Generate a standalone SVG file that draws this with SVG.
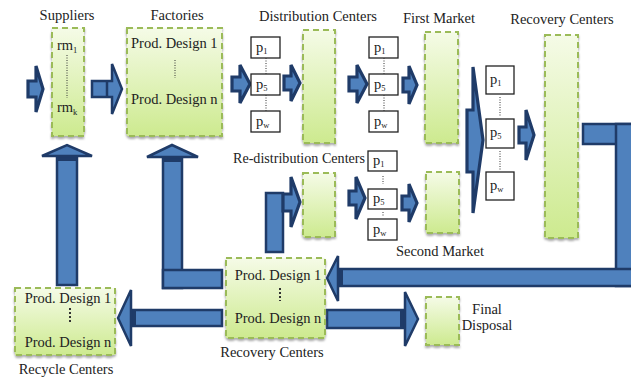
<svg xmlns="http://www.w3.org/2000/svg" width="631" height="379" viewBox="0 0 631 379">
<defs>
<linearGradient id="g" x1="0" y1="0" x2="0" y2="1">
<stop offset="0" stop-color="#f5fbe7"/>
<stop offset="1" stop-color="#cdea8f"/>
</linearGradient>
<filter id="sh" x="-10%" y="-10%" width="120%" height="120%">
<feDropShadow dx="0" dy="2" stdDeviation="0.8" flood-color="#888" flood-opacity="0.7"/>
</filter>
<style>
.box{fill:url(#g);stroke:#9bbb59;stroke-width:2;stroke-dasharray:6 4;filter:url(#sh)}
.pb{fill:#fff;stroke:#222;stroke-width:1.3}
.ar{fill:#4f81bd;stroke:#1f3b68;stroke-width:2.5;stroke-linejoin:miter}
.ars{fill:#4f81bd;stroke:#1f3b68;stroke-width:3.2;stroke-linejoin:miter}
.band{fill:#1f3b68}
.dot{stroke:#333;stroke-width:1;stroke-dasharray:1 1.5;fill:none}
.dot2{stroke:#333;stroke-width:2;stroke-dasharray:2 2;fill:none}
text{font-family:"Liberation Serif","Times New Roman",serif;font-size:14.5px;fill:#222}
.c{text-anchor:middle}
.sub{font-size:8.5px}
</style>
</defs>
<g id="connectors">
<polygon class="ars" points="28,81 36,81 36,66 43,89 36,112 36,97 28,97"/>
<polygon class="ar" points="92,81 112,81 112,64 122,89 112,114 112,97 92,97"/>
<line x1="107" y1="81" x2="107" y2="97" stroke="#1f3b68" stroke-width="2.5"/>
<polygon class="ars" points="232,77 240,77 240,65 250,84 240,103 240,91 232,91"/>
<polygon class="ars" points="284,76 291,76 291,65 300,83 291,101 291,90 284,90"/>
<polygon class="ars" points="349,77 357,77 357,65 367,84 357,103 357,91 349,91"/>
<polygon class="ars" points="403,78 409,78 409,66 417,85 409,104 409,92 403,92"/>
<rect class="ar" x="266" y="193" width="17" height="59"/>
<polygon class="ars" points="283,194 291,194 291,177 300,202 291,227 291,211 283,211"/>
<polygon class="ars" points="349,191 356,191 356,177 365,198 356,219 356,205 349,205"/>
<polygon class="ars" points="402,196 409,196 409,184 417,203 409,222 409,210 402,210"/>
<polygon class="ars" points="467,110 473,110 473,67 483,140 473,213 473,172 467,172"/>
<polygon class="ars" points="519,127 526,127 526,110 534,135 526,160 526,143 519,143"/>
<rect class="ar" x="583" y="124" width="50" height="20"/>
<rect class="ar" x="616" y="124" width="17" height="162"/>
<rect class="ar" x="338" y="269" width="295" height="17"/>
<rect class="band" x="338" y="269" width="5" height="17"/>
<polygon class="ar" points="338,256 327,278 338,301"/>
<rect class="ar" x="163" y="157" width="19" height="131"/>
<rect class="ar" x="163" y="270" width="59" height="18"/>
<rect class="band" x="163" y="157" width="19" height="5"/>
<polygon class="ar" points="147,157 172,145 198,157"/>
<rect class="ar" x="57" y="157" width="20" height="128"/>
<rect class="band" x="57" y="156" width="20" height="5"/>
<polygon class="ar" points="42,156 67,145 92,156"/>
<rect class="ar" x="131" y="310" width="91" height="16"/>
<rect class="band" x="131" y="310" width="5" height="16"/>
<polygon class="ar" points="131,290 118,318 131,346"/>
<rect class="ar" x="327" y="310" width="78" height="18"/>
<rect class="band" x="400" y="310" width="5" height="18"/>
<polygon class="ar" points="405,292 418,319 405,346"/>
</g>
<g id="suppliers">
<rect class="box" x="52" y="28" width="32" height="108"/>
<text x="67" y="20" class="c">Suppliers</text>
<text x="57" y="50">rm<tspan class="sub" dy="3">1</tspan></text>
<line class="dot" x1="67" y1="55" x2="67" y2="98"/>
<text x="57" y="112">rm<tspan class="sub" dy="3">k</tspan></text>
</g>
<g id="factories">
<rect class="box" x="127" y="28" width="95" height="108"/>
<text x="177" y="20" class="c">Factories</text>
<text x="131" y="48">Prod. Design 1</text>
<line class="dot" x1="175" y1="60" x2="175" y2="78"/>
<text x="131" y="104">Prod. Design n</text>
</g>
<g id="products-1">
<rect class="pb" x="251" y="37" width="29" height="21"/>
<rect class="pb" x="251" y="74" width="29" height="21"/>
<rect class="pb" x="251" y="111" width="29" height="21"/>
<line class="dot" x1="266" y1="58" x2="266" y2="74"/>
<line class="dot" x1="266" y1="95" x2="266" y2="111"/>
<text x="256" y="52">p<tspan class="sub" dy="2">1</tspan></text>
<text x="256" y="89">p<tspan class="sub" dy="2">5</tspan></text>
<text x="256" y="126">p<tspan class="sub" dy="2">w</tspan></text>
</g>
<g id="distribution-centers">
<rect class="box" x="303" y="30" width="32" height="113"/>
<text x="318" y="21" class="c">Distribution Centers</text>
</g>
<g id="products-2">
<rect class="pb" x="369" y="37" width="29" height="21"/>
<rect class="pb" x="369" y="74" width="29" height="21"/>
<rect class="pb" x="369" y="111" width="29" height="21"/>
<line class="dot" x1="384" y1="58" x2="384" y2="74"/>
<line class="dot" x1="384" y1="95" x2="384" y2="111"/>
<text x="374" y="52">p<tspan class="sub" dy="2">1</tspan></text>
<text x="374" y="89">p<tspan class="sub" dy="2">5</tspan></text>
<text x="374" y="126">p<tspan class="sub" dy="2">w</tspan></text>
</g>
<g id="first-market">
<rect class="box" x="425" y="32" width="33" height="111"/>
<text x="439" y="23" class="c">First Market</text>
</g>
<g id="redistribution-centers">
<rect class="box" x="303" y="173" width="32" height="64"/>
<text x="233" y="163" textLength="132" lengthAdjust="spacingAndGlyphs">Re-distribution Centers</text>
</g>
<g id="products-3">
<rect class="pb" x="368" y="151" width="29" height="20"/>
<rect class="pb" x="368" y="189" width="29" height="20"/>
<rect class="pb" x="368" y="219" width="29" height="21"/>
<line class="dot" x1="383" y1="176" x2="383" y2="184"/>
<line class="dot" x1="383" y1="212" x2="383" y2="217"/>
<text x="373" y="165">p<tspan class="sub" dy="2">1</tspan></text>
<text x="373" y="203">p<tspan class="sub" dy="2">5</tspan></text>
<text x="373" y="234">p<tspan class="sub" dy="2">w</tspan></text>
</g>
<g id="second-market">
<rect class="box" x="426" y="172" width="33" height="61"/>
<text x="440" y="256" class="c">Second Market</text>
</g>
<g id="products-4">
<rect class="pb" x="486" y="66" width="28" height="28"/>
<rect class="pb" x="486" y="119" width="28" height="29"/>
<rect class="pb" x="486" y="172" width="28" height="28"/>
<line class="dot" x1="500" y1="97" x2="500" y2="116"/>
<line class="dot" x1="500" y1="151" x2="500" y2="170"/>
<text x="490" y="84">p<tspan class="sub" dy="2">1</tspan></text>
<text x="490" y="137">p<tspan class="sub" dy="2">5</tspan></text>
<text x="490" y="190">p<tspan class="sub" dy="2">w</tspan></text>
</g>
<g id="recovery-centers-top">
<rect class="box" x="545" y="35" width="33" height="203"/>
<text x="562" y="24" class="c">Recovery Centers</text>
</g>
<g id="recovery-centers-bottom">
<rect class="box" x="226" y="258" width="99" height="80"/>
<text x="278" y="280" class="c">Prod. Design 1</text>
<line class="dot2" x1="280" y1="288" x2="280" y2="301"/>
<text x="278" y="323" class="c">Prod. Design n</text>
<text x="272" y="357" class="c">Recovery Centers</text>
</g>
<g id="final-disposal">
<rect class="box" x="426" y="297" width="33" height="48"/>
<text x="487" y="314" class="c">Final</text>
<text x="487" y="330" class="c">Disposal</text>
</g>
<g id="recycle-centers">
<rect class="box" x="15" y="288" width="100" height="67"/>
<text x="68" y="303" class="c">Prod. Design 1</text>
<line class="dot2" x1="70" y1="308" x2="70" y2="323"/>
<text x="68" y="347" class="c">Prod. Design n</text>
<text x="66" y="374" class="c">Recycle Centers</text>
</g>
</svg>
